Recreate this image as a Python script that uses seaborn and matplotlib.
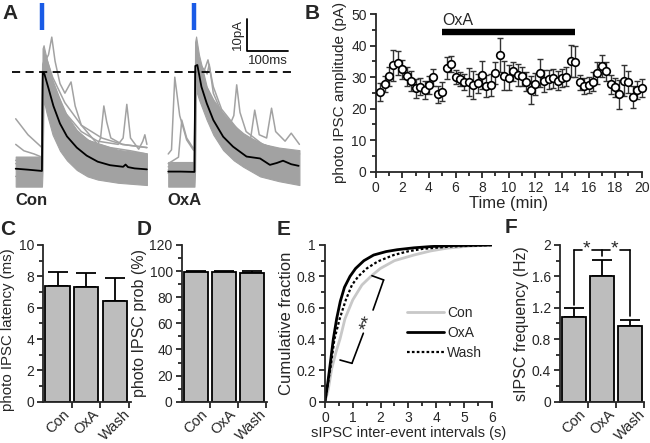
import numpy as np
import pandas as pd
import matplotlib
matplotlib.use("Agg")
import matplotlib.pyplot as plt
import seaborn as sns

# ---------------- A: example traces (local time ms, current pA) ----------------
con_mean_t = [0, 30, 64, 66, 70, 80, 92, 108, 125, 149, 173, 200, 230, 262, 268, 274, 290, 320]
con_mean_i = [0.4, 0.1, -0.3, 30.5, 30.0, 25.5, 20, 14.5, 10.5, 7, 4.5, 2.6, 1.5, 1.0, 1.7, 0.9, 0.5, 0.2]
oxa_mean_t = [0, 30, 64, 66, 71, 81, 94, 110, 134, 158, 191, 224, 248, 265, 280, 300, 318]
oxa_mean_i = [-0.5, -0.5, -0.6, 32.5, 32.8, 26, 20.8, 15.6, 10.4, 7.3, 4.2, 3.6, 1.6, 2.2, 2.9, 1.8, 1.3]

# spread of the grey sweeps (lower / upper edge of the dense band)
con_band_t = [0, 64, 65.5, 68, 75, 90, 108, 125, 149, 175, 200, 250, 320]
con_band_lo = [-5.2, -5.2, 0, 22, 18, 11, 6, 3, 0, -2, -3, -4, -4.7]
con_band_hi = [4.2, 4.2, 38, 39, 35, 28, 22, 17, 12.5, 9.5, 8.3, 6.3, 5.2]
oxa_band_t = [0, 64, 65.5, 68, 75, 94, 110, 134, 160, 183, 224, 270, 320]
oxa_band_lo = [-5.2, -5.2, 0, 25, 22, 15.6, 11, 6.2, 3, 1, -2, -3.5, -4.7]
oxa_band_hi = [2.5, 2.5, 40, 41.7, 36, 26, 22, 17.7, 14, 11.5, 8.3, 7, 6.2]

# single sweeps that stick out of the band (spontaneous events)
con_sweeps = [
    ([0, 30, 64, 66, 72, 90, 110, 140, 180, 230, 280, 320],
     [16, 11, 7, 33, 35, 27, 20, 13, 9, 7, 6, 5]),
    ([0, 20, 45, 64, 66, 72, 90, 120, 160, 210, 260, 320],
     [8, 6, 5, 4, 31, 36, 29, 21, 14, 10, 8, 7]),
    ([0, 40, 64, 66, 72, 80, 88, 96, 108, 120, 135, 145, 160, 200, 260, 320],
     [2, 1, 0, 30, 34, 36, 41.5, 34, 27, 24, 27.5, 20, 14, 8, 5, 4]),
    ([0, 64, 66, 72, 90, 120, 160, 200, 207, 215, 222, 232, 260, 320],
     [-2, -2, 28, 33, 25, 16, 10, 8, 10, 20, 15, 10, 8, 7]),
    ([0, 64, 66, 72, 90, 120, 160, 200, 250, 262, 271, 280, 300, 310, 315, 320],
     [3, 2, 29, 36, 27, 18, 12, 9, 8, 10, 20.5, 10, 6.5, 9, 11, 8]),
]
oxa_sweeps = [
    ([0, 8, 16, 28, 45, 61, 64, 66, 72, 90, 120, 160, 200, 260, 320],
     [5, 6.3, 29, 17, 9.4, 6.3, 6, 30, 33, 25, 17, 11, 8, 6, 5]),
    ([0, 25, 33, 45, 60, 64, 66, 72, 95, 100, 110, 140, 180, 240, 320],
     [2, 4, 15.6, 10, 7, 6.5, 31, 34, 30, 33, 24, 15, 10, 7, 5]),
    ([0, 64, 66, 72, 90, 120, 150, 160, 167, 175, 190, 230, 280, 320],
     [-1, -1, 30, 35, 27, 18, 14, 17, 26.6, 18, 12, 8, 6, 5]),
    ([0, 64, 66, 72, 90, 120, 160, 200, 211, 222, 240, 252, 262, 285, 300, 320],
     [0, 0, 29, 33, 24, 16, 11, 9, 18.7, 11, 10, 19.3, 12, 9, 11.5, 8]),
    ([0, 64, 66, 72, 85, 97, 110, 130, 180, 250, 320],
     [1, 1, 30, 34, 30, 34.4, 26, 19, 11, 7, 5]),
]
oxa_offset = 372  # ms, where the OxA sweeps are drawn

# ---------------- B: photo IPSC amplitude over time ----------------
b_time = [0.33, 0.67, 1.0, 1.33, 1.67, 2.0, 2.33, 2.67, 3.0, 3.33, 3.67, 4.0, 4.33, 4.67, 5.0,
          5.33, 5.67, 6.0, 6.33, 6.67, 7.0, 7.33, 7.67, 8.0, 8.33, 8.67, 9.0, 9.33, 9.67, 10.0,
          10.33, 10.67, 11.0, 11.33, 11.67, 12.0, 12.33, 12.67, 13.0, 13.33, 13.67, 14.0, 14.33,
          14.67, 15.0, 15.33, 15.67, 16.0, 16.33, 16.67, 17.0, 17.33, 17.67, 18.0, 18.33, 18.67,
          19.0, 19.33, 19.67, 20.0]
b_amp = [25.2, 27.8, 30.3, 33.7, 34.6, 32.5, 30.3, 28.8, 26.4, 27.0,
         25.9, 27.4, 29.9, 24.5, 25.4, 32.8, 34.1, 29.9, 29.4, 28.5,
         28.5, 27.5, 28.0, 30.7, 27.3, 27.5, 31.4, 37.0, 30.5, 29.8,
         31.9, 30.7, 30.3, 28.5, 25.9, 27.7, 31.2, 28.9, 29.3, 29.6,
         28.9, 29.7, 30.1, 35.1, 34.9, 28.3, 27.2, 27.6, 28.5, 31.4,
         33.6, 31.9, 27.7, 26.7, 24.5, 28.9, 28.3, 23.7, 25.9, 26.5]
b_err = [2.8, 2.5, 3.0, 5.0, 3.8, 3.0, 3.0, 3.2, 3.0, 2.8,
         2.8, 2.8, 2.8, 2.8, 3.0, 3.5, 2.5, 2.2, 2.2, 2.5,
         4.5, 4.5, 3.0, 4.5, 3.5, 3.5, 3.5, 5.5, 4.5, 4.0,
         3.0, 3.5, 3.0, 3.0, 4.5, 3.5, 4.5, 3.5, 3.0, 3.0,
         3.0, 3.0, 3.0, 5.0, 5.0, 2.5, 2.5, 2.5, 3.0, 3.5,
         3.5, 3.0, 3.0, 3.0, 4.5, 4.8, 3.5, 3.5, 3.0, 2.8]
oxa_on, oxa_off = 5, 15

# ---------------- C, D, F: bar summaries ----------------
conds = ["Con", "OxA", "Wash"]
latency = [7.4, 7.35, 6.42]
latency_err = [0.9, 0.85, 1.5]
prob = [99.6, 99.6, 98.7]
prob_err = [0.4, 0.3, 1.5]
freq = [1.08, 1.60, 0.96]
freq_err = [0.11, 0.21, 0.085]

# ---------------- E: cumulative fraction of inter-event intervals ----------------
e_con_x = [0, 0.12, 0.24, 0.4, 0.54, 0.72, 1.0, 1.33, 1.65, 1.99, 2.5, 3.2, 3.8, 4.4, 5.2, 6.0]
e_con_y = [0, 0.08, 0.21, 0.32, 0.40, 0.53, 0.65, 0.745, 0.80, 0.85, 0.90, 0.936, 0.962, 0.98,
           0.993, 1.0]
e_oxa_x = [0, 0.05, 0.1, 0.18, 0.3, 0.42, 0.55, 0.7, 0.9, 1.1, 1.4, 1.75, 2.2, 2.6, 3.2, 3.8,
           4.5, 6.0]
e_oxa_y = [0, 0.06, 0.12, 0.23, 0.40, 0.53, 0.64, 0.73, 0.80, 0.85, 0.90, 0.936, 0.958, 0.970,
           0.982, 0.99, 0.996, 1.0]
e_wash_x = [0, 0.1, 0.2, 0.34, 0.53, 0.75, 0.97, 1.2, 1.5, 1.9, 2.47, 3.0, 3.5, 4.5, 6.0]
e_wash_y = [0, 0.11, 0.22, 0.40, 0.53, 0.65, 0.745, 0.80, 0.85, 0.895, 0.936, 0.96, 0.975,
            0.99, 1.0]

sns.set_style("ticks")
plt.rcParams["font.family"] = ["Liberation Sans", "DejaVu Sans"]
plt.rcParams["axes.linewidth"] = 1.3
plt.rcParams["xtick.major.width"] = 1.3
plt.rcParams["ytick.major.width"] = 1.3
plt.rcParams["xtick.minor.width"] = 1.3
plt.rcParams["ytick.minor.width"] = 1.3
plt.rcParams["xtick.major.size"] = 4.5
plt.rcParams["ytick.major.size"] = 4.5
plt.rcParams["xtick.minor.size"] = 3
plt.rcParams["ytick.minor.size"] = 3
plt.rcParams["xtick.labelsize"] = 10
plt.rcParams["ytick.labelsize"] = 10
plt.rcParams["xtick.major.pad"] = 2
plt.rcParams["ytick.major.pad"] = 2

W, H = 650, 443
fig = plt.figure(figsize=(6.5, 4.43), dpi=100)


def px_axes(left, top, right, bottom):
    return fig.add_axes([left / W, 1 - bottom / H, (right - left) / W, (bottom - top) / H])


grey = "#a2a2a2"
bar_grey = "#bdbdbd"

# ---------- A ----------
axA = px_axes(10, 0, 305, 190)
axA.set_xlim(-13.9, 705.6)
axA.set_ylim(-6.25, 53.1)
axA.axis("off")
for off, bt, blo, bhi, sweeps, mt, mi in [
        (0, con_band_t, con_band_lo, con_band_hi, con_sweeps, con_mean_t, con_mean_i),
        (oxa_offset, oxa_band_t, oxa_band_lo, oxa_band_hi, oxa_sweeps, oxa_mean_t, oxa_mean_i)]:
    bt = np.asarray(bt) + off
    axA.fill_between(bt, blo, bhi, color=grey, lw=0.8, edgecolor=grey)
    for st, si in sweeps:
        axA.plot(np.asarray(st) + off, si, color=grey, lw=1.1)
    sns.lineplot(x=np.asarray(mt) + off, y=mi, color="black", lw=1.3, ax=axA)
    axA.plot([off + 63.5, off + 63.5], [43.8, 52.3], color="#1a5be6", lw=3.2,
             solid_capstyle="butt")
axA.plot([-9.8, 675.6], [30.7, 30.7], color="black", lw=1.3, dashes=(4.5, 3))
# scale bar 10 pA / 100 ms
axA.plot([564, 564, 664], [47.2, 37.2, 37.2], color="black", lw=1.3)
axA.text(556, 42.2, "10pA", rotation=90, ha="right", va="center", fontsize=9.5)
axA.text(614, 36.0, "100ms", ha="center", va="top", fontsize=9.5)
axA.text(-2, -10.9, "Con", fontsize=12, fontweight="bold", ha="left", va="baseline")
axA.text(371, -10.9, "OxA", fontsize=12, fontweight="bold", ha="left", va="baseline")

# ---------- B ----------
axB = px_axes(375.7, 14, 641.7, 171.7)
axB.errorbar(b_time, b_amp, yerr=b_err, fmt="none", ecolor="#333333", elinewidth=1.0,
             capsize=2, capthick=1.0, zorder=2, clip_on=False)
sns.scatterplot(x=b_time, y=b_amp, marker="o", s=30, color="white", edgecolor="black",
                linewidth=1.2, ax=axB, zorder=3, clip_on=False)
axB.set_xlim(0, 20)
axB.set_ylim(0, 50)
axB.set_xticks(range(0, 21, 2))
axB.set_xticks(range(1, 20, 2), minor=True)
axB.set_yticks(range(0, 51, 10))
axB.set_yticks(range(5, 50, 10), minor=True)
axB.plot([oxa_on, oxa_off], [44.2, 44.2], color="black", lw=4.6, solid_capstyle="butt",
         clip_on=False)
axB.text(oxa_on, 45.6, "OxA", fontsize=11.5, ha="left", va="bottom")
axB.set_xlabel("Time (min)", fontsize=12, labelpad=1)
axB.set_ylabel("photo IPSC amplitude (pA)", fontsize=11, labelpad=3)
sns.despine(ax=axB)


# ---------- bar panels ----------
def bar_panel(ax, vals, errs, ymax, major, minor, ylabel, xmax=2.55, lab_size=11.5):
    df = pd.DataFrame({"cond": conds, "val": vals})
    sns.barplot(data=df, x="cond", y="val", color=bar_grey, edgecolor="black",
                linewidth=1.3, width=0.85, saturation=1, errorbar=None, ax=ax, zorder=2)
    ax.errorbar(range(3), vals, yerr=[[0, 0, 0], errs], fmt="none", ecolor="black",
                elinewidth=1.3, capsize=7, capthick=1.3, zorder=1)
    ax.set_xlim(-0.5, xmax)
    ax.set_ylim(0, ymax)
    ax.set_yticks(major)
    ax.set_yticks(minor, minor=True)
    ax.set_xticks([0, 1, 2])
    ax.set_xticks([0.5, 1.5, 2.5], minor=True)
    ax.tick_params(axis="x", which="major", length=0, pad=4)
    ax.tick_params(axis="x", which="minor", length=4.5)
    ax.set_xticklabels(conds, rotation=45, ha="center", fontsize=10.5)
    ax.set_xlabel("")
    ax.set_ylabel(ylabel, fontsize=lab_size, labelpad=2)
    sns.despine(ax=ax)


axC = px_axes(43.3, 245, 130.5, 401.7)
bar_panel(axC, latency, latency_err, 10, [0, 2, 4, 6, 8, 10], [1, 3, 5, 7, 9],
          "photo IPSC latency (ms)", lab_size=10.8)
axC.yaxis.set_label_coords(-0.33, 0.46)
axD = px_axes(181.7, 245, 267, 401.7)
bar_panel(axD, prob, prob_err, 120, list(range(0, 121, 20)), list(range(10, 120, 20)),
          "photo IPSC prob (%)")
axF = px_axes(560, 245, 644, 401.7)
bar_panel(axF, freq, freq_err, 2, [0, 0.4, 0.8, 1.2, 1.6, 2], [0.2, 0.6, 1.0, 1.4, 1.8],
          "sIPSC frequency (Hz)", xmax=2.5)
axF.set_yticklabels(["0", "0.4", "0.8", "1.2", "1.6", "2"])
top = 1.936
for xs, ys in [([0, 0], [1.24, top]), ([1, 1], [1.86, top]), ([2, 2], [1.09, top]),
               ([0, 0.27], [top, top]), ([0.63, 1.27], [top, top]), ([1.63, 2], [top, top])]:
    axF.plot(xs, ys, color="black", lw=1.2, clip_on=False)
axF.text(0.45, top - 0.1, "*", ha="center", va="bottom", fontsize=14)
axF.text(1.45, top - 0.1, "*", ha="center", va="bottom", fontsize=14)

# ---------- E ----------
axE = px_axes(325, 245, 491.7, 401.7)
sns.lineplot(x=e_con_x, y=e_con_y, color="#c8c8c8", lw=2.0, ax=axE, label="Con")
sns.lineplot(x=e_oxa_x, y=e_oxa_y, color="black", lw=2.0, ax=axE, label="OxA")
sns.lineplot(x=e_wash_x, y=e_wash_y, color="black", lw=1.6, ax=axE, label="Wash",
             dashes=(1.2, 1.0))
axE.set_xlim(0, 6)
axE.set_ylim(0, 1)
axE.set_xticks(range(0, 7))
axE.set_xticks([0.5, 1.5, 2.5, 3.5, 4.5, 5.5], minor=True)
axE.set_yticks([0, 0.2, 0.4, 0.6, 0.8, 1])
axE.set_yticks([0.1, 0.3, 0.5, 0.7, 0.9], minor=True)
axE.set_yticklabels(["0", "0.2", "0.4", "0.6", "0.8", "1"])
axE.set_xlabel("sIPSC inter-event intervals (s)", fontsize=10.5, labelpad=1)
axE.set_ylabel("Cumulative fraction", fontsize=12, labelpad=2)
axE.legend(loc="center left", bbox_to_anchor=(0.45, 0.44), frameon=False, fontsize=10,
           handlelength=2.7, handletextpad=0.2, labelspacing=0.45, borderpad=0)
for xs, ys in [([2.11, 1.69], [0.777, 0.804]), ([2.11, 1.73], [0.777, 0.585]),
               ([1.38, 0.97], [0.437, 0.245]), ([0.97, 0.54], [0.245, 0.266])]:
    axE.plot(xs, ys, color="black", lw=1.2)
axE.text(1.57, 0.50, "**", rotation=69, ha="center", va="center", fontsize=14)
sns.despine(ax=axE)

# ---------- panel letters ----------
for lab, x, y in [("A", 2, 4), ("B", 305, 4), ("C", 0, 220), ("D", 137, 220),
                  ("E", 277, 220), ("F", 505, 218)]:
    fig.text(x / W, 1 - y / H, lab, fontsize=15, fontweight="bold", ha="left", va="top")

fig.savefig("out.png", dpi=100)
